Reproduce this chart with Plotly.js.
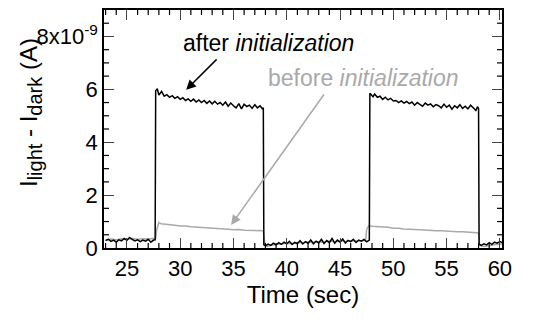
<!DOCTYPE html>
<html><head><meta charset="utf-8">
<script src="https://cdn.plot.ly/plotly-3.0.1.min.js"></script>
<style>html,body{margin:0;padding:0;background:#fff}#chart{width:544px;height:324px}#diag{position:absolute;left:0;top:0;font:9px sans-serif;color:red;z-index:99}</style>
</head><body><div id="chart"></div><div id="diag"></div>
<script>
function show(m){document.getElementById('diag').insertAdjacentHTML('beforeend', m + '<br>');}
window.addEventListener('error', e => show('ERR ' + e.message));
window.addEventListener('unhandledrejection', e => show('REJ ' + (e.reason && e.reason.message)));

// values in units of 1e-9 A
const afterTime = [23.0,23.25,23.5,23.75,24.0,24.25,24.5,24.75,25.0,25.25,25.5,25.75,26.0,26.25,26.5,26.75,27.0,27.25,27.5,27.65,
 27.7,27.85,28.0,28.25,28.5,28.75,29.0,29.25,29.5,29.75,30.0,30.25,30.5,30.75,31.0,31.25,31.5,31.75,32.0,32.25,32.5,32.75,33.0,33.25,33.5,33.75,34.0,34.25,34.5,34.75,35.0,35.25,35.5,35.75,36.0,36.25,36.5,36.75,37.0,37.25,37.5,37.7,37.8,
 37.85,38.0,38.25,38.5,38.75,39.0,39.25,39.5,39.75,40.0,40.25,40.5,40.75,41.0,41.25,41.5,41.75,42.0,42.25,42.5,42.75,43.0,43.25,43.5,43.75,44.0,44.25,44.5,44.75,45.0,45.25,45.5,45.75,46.0,46.25,46.5,46.75,47.0,47.25,47.5,47.75,
 47.8,47.95,48.1,48.25,48.5,48.75,49.0,49.25,49.5,49.75,50.0,50.25,50.5,50.75,51.0,51.25,51.5,51.75,52.0,52.25,52.5,52.75,53.0,53.25,53.5,53.75,54.0,54.25,54.5,54.75,55.0,55.25,55.5,55.75,56.0,56.25,56.5,56.75,57.0,57.25,57.5,57.75,57.9,58.0,
 58.05,58.25,58.5,58.75,59.0,59.25,59.5,59.75,60.0,60.25];
const afterCurrent = [0.28,0.33,0.25,0.30,0.22,0.31,0.27,0.36,0.29,0.40,0.33,0.27,0.31,0.24,0.30,0.26,0.33,0.22,0.30,0.31,
 5.95,6.02,5.78,5.92,5.74,5.80,5.70,5.76,5.66,5.72,5.62,5.68,5.58,5.64,5.55,5.63,5.52,5.60,5.50,5.58,5.47,5.56,5.45,5.55,5.44,5.50,5.40,5.52,5.36,5.48,5.38,5.30,5.46,5.26,5.44,5.35,5.40,5.28,5.42,5.30,5.38,5.27,5.30,
 0.12,0.08,0.15,0.10,0.18,0.12,0.20,0.14,0.22,0.16,0.25,0.13,0.21,0.17,0.28,0.15,0.24,0.18,0.30,0.16,0.26,0.19,0.33,0.17,0.28,0.20,0.36,0.18,0.30,0.22,0.34,0.19,0.29,0.24,0.33,0.21,0.30,0.26,0.32,0.23,0.30,
 5.85,5.80,5.72,5.82,5.70,5.74,5.62,5.70,5.60,5.66,5.56,5.58,5.50,5.56,5.48,5.54,5.46,5.52,5.40,5.50,5.44,5.36,5.48,5.40,5.45,5.34,5.42,5.38,5.30,5.44,5.32,5.40,5.25,5.38,5.30,5.42,5.28,5.36,5.26,5.40,5.30,5.20,5.34,5.28,
 0.15,0.10,0.16,0.12,0.20,0.14,0.22,0.18,0.24,0.20];

const beforeTime = [23.0,23.5,24.0,24.5,25.0,25.5,26.0,26.5,27.0,27.5,27.7,27.8,28.0,28.2,28.5,29.0,29.5,30.0,30.5,31.0,31.5,32.0,32.5,33.0,33.5,34.0,34.5,35.0,35.5,36.0,36.5,37.0,37.5,37.8,
 37.95,38.2,38.5,39.0,39.5,40.0,40.5,41.0,41.5,42.0,42.5,43.0,43.5,44.0,44.5,45.0,45.5,46.0,46.5,47.0,47.4,
 47.5,47.7,48.0,48.5,49.0,49.5,50.0,50.5,51.0,51.5,52.0,52.5,53.0,53.5,54.0,54.5,55.0,55.5,56.0,56.5,57.0,57.5,57.8,58.0,
 58.1,58.5,59.0,59.5,60.0,60.25];
const beforeCurrent = [0.30,0.34,0.31,0.35,0.32,0.36,0.33,0.35,0.34,0.36,0.37,0.70,0.96,0.92,0.90,0.87,0.86,0.83,0.83,0.80,0.79,0.77,0.77,0.74,0.74,0.72,0.71,0.69,0.70,0.67,0.67,0.66,0.66,0.65,
 0.12,0.06,0.10,0.13,0.15,0.18,0.17,0.21,0.20,0.23,0.22,0.24,0.23,0.26,0.24,0.27,0.25,0.27,0.26,0.28,0.28,
 0.70,0.85,0.82,0.81,0.78,0.78,0.75,0.75,0.72,0.72,0.70,0.69,0.67,0.67,0.65,0.65,0.63,0.63,0.61,0.61,0.60,0.60,0.58,0.56,
 0.10,0.06,0.10,0.12,0.14,0.15];

const yTickVals = [0,2,4,6,8];
const yTickText = ['0','2','4','6','8x10<sup>-9</sup>'];

const gray = '#a9a9a9';
const XR = [22.85,60.2], YR = [0,9.0];
const PW = 398, PH = 238;

const shapes = [];
for (let v = 23; v <= 60; v += 1) {
  if (v % 5 === 0) continue;
  shapes.push({type:'line', xref:'x', yref:'paper', x0:v, x1:v, y0:0, y1:5/PH, line:{color:'#000', width:1.2}});
  shapes.push({type:'line', xref:'x', yref:'paper', x0:v, x1:v, y0:1, y1:1-5/PH, line:{color:'#000', width:1.2}});
}
for (let v = 0.5; v < 9; v += 0.5) {
  if (v % 2 === 0) continue;
  shapes.push({type:'line', xref:'paper', yref:'y', y0:v, y1:v, x0:0, x1:5/PW, line:{color:'#000', width:1.2}});
  shapes.push({type:'line', xref:'paper', yref:'y', y0:v, y1:v, x0:1, x1:1-5/PW, line:{color:'#000', width:1.2}});
}

const traces = [
  {x: beforeTime, y: beforeCurrent, mode:'lines', line:{color:gray, width:1.5}, hoverinfo:'skip'},
  {x: afterTime, y: afterCurrent, mode:'lines', line:{color:'#000', width:1.5}, hoverinfo:'skip'}
];
const layout = {
  width:544, height:324,
  margin:{l:104, r:42, t:10, b:76},
  showlegend:false,
  font: {family:'"Liberation Sans", Arial, sans-serif', color:'#000', size:22},
  xaxis:{range:XR, dtick:5, ticks:'inside', ticklen:10, showline:true, linecolor:'#000', linewidth:1.5, mirror:'ticks', showgrid:false, zeroline:false,
    title:{text:'Time (sec)', font:{size:24}, standoff:6}},
  yaxis:{range:YR, tickmode:'array', tickvals:yTickVals, ticktext:yTickText, ticks:'inside', ticklen:10, showline:true, linecolor:'#000', linewidth:1.5, mirror:'ticks', showgrid:false, zeroline:false},
  shapes: shapes,
  annotations:[
    {xref:'paper', yref:'paper', x:(30-104)/398, y:(248-113)/238, text:'I<sub><span style="font-size:20px">light</span></sub> - I<sub><span style="font-size:20px">dark</span></sub> (A)', textangle:-90, showarrow:false, font:{size:24}, xanchor:'center', yanchor:'middle'},
    {xref:'x', yref:'y', x:38.25, y:7.75, text:'after <i>initialization</i>', showarrow:false, font:{size:23, color:'#000'}},
    {xref:'x', yref:'y', x:47.2, y:6.43, text:'before <i>initialization</i>', showarrow:false, font:{size:23, color:gray}},
    {xref:'x', yref:'y', x:30.56, y:5.98, axref:'x', ayref:'y', ax:33.56, ay:7.19, text:'', showarrow:true, arrowhead:2, arrowsize:1.3, arrowwidth:1.5, arrowcolor:'#000'},
    {xref:'x', yref:'y', x:34.78, y:0.87, axref:'x', ayref:'y', ax:43.59, ay:5.86, text:'', showarrow:true, arrowhead:2, arrowsize:1.3, arrowwidth:1.5, arrowcolor:gray}
  ]
};
Plotly.newPlot('chart', traces, layout, {displayModeBar:false}).then(gd => {
  const xl = gd.querySelector('path.xlines-above');
  const d = xl ? xl.getAttribute('d') : null;
  const nt = gd.querySelectorAll('path.xtick, path.ytick').length;
  const ns = gd.querySelectorAll('.shapelayer path').length;
  if (!d || d.indexOf('NaN') >= 0 || nt === 0 || ns === 0) show('xl=' + d + ' ticks=' + nt + ' shapes=' + ns);
}).catch(e => show('CATCH ' + e.message));
</script></body></html>
